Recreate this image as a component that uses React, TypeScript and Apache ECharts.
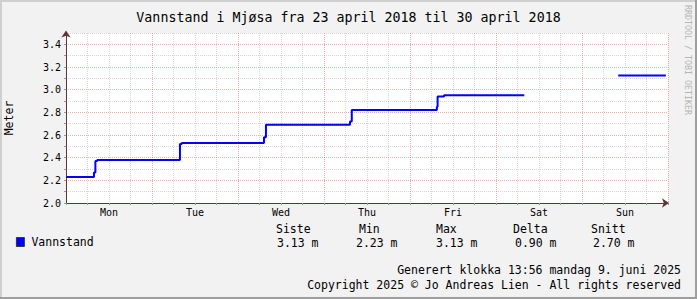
import React, { useEffect, useRef } from "react";
import * as echarts from "echarts";

// ---- data ----
const chartTitle = "Vannstand i Mjøsa fra 23 april 2018 til 30 april 2018";
const yAxisName = "Meter";
const seriesName = "Vannstand";
const dayLabels = ["Mon", "Tue", "Wed", "Thu", "Fri", "Sat", "Sun"];
// hours since Monday 23 April 2018 00:00
const hoursFromStart = [0, 7.8, 8.2, 8.7, 31.8, 32.3, 55.25, 55.8, 79.25, 79.75, 103.5, 103.7, 105.5, 127.9, 127.95, 154.1, 167.4];
const waterLevels: (number | null)[] = [2.23, 2.27, 2.37, 2.38, 2.52, 2.53, 2.58, 2.69, 2.72, 2.82, 2.85, 2.94, 2.95, 2.95, null, 3.125, 3.125];
const statHeaders = ["Siste", "Min", "Max", "Delta", "Snitt"];
const statValues = ["3.13 m", "2.23 m", "3.13 m", "0.90 m", "2.70 m"];
const footerLines = [
  "Generert klokka 13:56 mandag 9. juni 2025",
  "Copyright 2025 © Jo Andreas Lien - All rights reserved",
];
const watermark = "RRDTOOL / TOBI OETIKER";

// ---- layout / style ----
const W = 697;
const H = 299;
const MONO = "'DejaVu Sans Mono', 'Liberation Mono', monospace";
const MAJOR = "rgba(222,80,80,0.45)";
const MINOR = "rgba(140,140,140,0.35)";
const AXIS = "#5e3535";
const headerX = [276, 359, 436, 513, 591];
const valueX = [277, 356, 436, 515, 593];

export default function App() {
  const ref = useRef<HTMLDivElement>(null);

  useEffect(() => {
    document.body.style.margin = "0";
    if (!ref.current) return;
    const chart = echarts.init(ref.current, undefined, { renderer: "svg" });

    const data = hoursFromStart.map((t, i) => [t, waterLevels[i]]);

    const graphics: any[] = [];
    // frame shading
    graphics.push(
      { type: "line", shape: { x1: 0, y1: 1, x2: W, y2: 1 }, style: { stroke: "#cfcfcf", lineWidth: 2 }, silent: true },
      { type: "line", shape: { x1: 1, y1: 0, x2: 1, y2: H }, style: { stroke: "#cfcfcf", lineWidth: 2 }, silent: true },
      { type: "line", shape: { x1: 0, y1: H - 1, x2: W, y2: H - 1 }, style: { stroke: "#9e9e9e", lineWidth: 2 }, silent: true },
      { type: "line", shape: { x1: W - 1, y1: 0, x2: W - 1, y2: H }, style: { stroke: "#9e9e9e", lineWidth: 2 }, silent: true }
    );
    statHeaders.forEach((h, i) => {
      graphics.push({
        type: "text", x: headerX[i], y: 229,
        style: { text: h, font: `11.5px ${MONO}`, fill: "#000", align: "left", verticalAlign: "middle" },
        silent: true,
      });
    });
    statValues.forEach((v, i) => {
      graphics.push({
        type: "text", x: valueX[i], y: 243,
        style: { text: v, font: `11.5px ${MONO}`, fill: "#000", align: "left", verticalAlign: "middle" },
        silent: true,
      });
    });
    footerLines.forEach((t, i) => {
      graphics.push({
        type: "text", x: 681, y: 270 + i * 15,
        style: { text: t, font: `11.5px ${MONO}`, fill: "#000", align: "right", verticalAlign: "middle" },
        silent: true,
      });
    });
    graphics.push({
      type: "text", x: 688, y: 5, rotation: -Math.PI / 2,
      style: { text: watermark, font: `8.3px ${MONO}`, fill: "#b4b4b4", align: "left", verticalAlign: "middle" },
      silent: true,
    });

    chart.setOption({
      animation: false,
      backgroundColor: "#f2f2f2",
      textStyle: { fontFamily: MONO },
      title: {
        text: chartTitle,
        left: "center",
        top: 6,
        textStyle: { fontFamily: MONO, fontSize: 13.3, fontWeight: "normal", color: "#000" },
      },
      legend: {
        data: [seriesName],
        left: 16,
        top: 236,
        padding: 0,
        icon: "rect",
        itemWidth: 8,
        itemHeight: 9,
        itemStyle: { color: "#0000ff", borderColor: "#222", borderWidth: 0.8 },
        textStyle: { fontFamily: MONO, fontSize: 11.5, color: "#000", padding: [0, 0, 0, 2] },
        selectedMode: false,
      },
      grid: {
        left: 66,
        right: W - 668,
        top: 33,
        bottom: H - 203,
        show: true,
        backgroundColor: "#ffffff",
        borderWidth: 0,
        containLabel: false,
        outerBoundsMode: "none",
      },
      xAxis: {
        type: "value",
        min: 0,
        max: 168,
        interval: 6,
        axisLine: {
          show: true,
          onZero: false,
          lineStyle: { color: AXIS, width: 1 },
          symbol: ["none", "arrow"],
          symbolSize: [7, 7],
          symbolOffset: [0, 1],
        },
        axisTick: { show: true, length: 2, lineStyle: { color: "#999" } },
        axisLabel: {
          interval: 0,
          margin: 4,
          fontFamily: MONO,
          fontSize: 10,
          color: "#000",
          formatter: (v: number) => (Math.round(v) % 24 === 12 ? dayLabels[(Math.round(v) - 12) / 24] : ""),
        },
        splitLine: { show: true, lineStyle: { color: [MAJOR, MINOR, MINOR, MINOR], type: [1, 1], width: 1 } },
      },
      yAxis: {
        type: "value",
        min: 2.0,
        max: 3.5,
        interval: 0.1,
        name: yAxisName,
        nameLocation: "middle",
        nameGap: 51,
        nameTextStyle: { fontFamily: MONO, fontSize: 11.5, color: "#000" },
        axisLine: {
          show: true,
          lineStyle: { color: AXIS, width: 1 },
          symbol: ["none", "arrow"],
          symbolSize: [7, 7],
          symbolOffset: [0, 2.5],
        },
        axisTick: { show: true, length: 2, lineStyle: { color: "#999" } },
        axisLabel: {
          margin: 5,
          fontFamily: MONO,
          fontSize: 10,
          color: "#000",
          formatter: (v: number) => {
            const k = Math.round(v * 10);
            return k % 2 === 0 && k < 35 ? (k / 10).toFixed(1) : "";
          },
        },
        splitLine: { show: true, lineStyle: { color: [MAJOR, MINOR], type: [1, 1], width: 1 } },
      },
      series: [
        {
          type: "line",
          name: seriesName,
          step: "end",
          data,
          showSymbol: false,
          symbol: "none",
          connectNulls: false,
          lineStyle: { color: "#0000ff", width: 2 },
          itemStyle: { color: "#0000ff" },
          silent: true,
        },
      ],
      graphic: graphics,
    });

    return () => chart.dispose();
  }, []);

  return <div ref={ref} style={{ width: W, height: H }} />;
}
